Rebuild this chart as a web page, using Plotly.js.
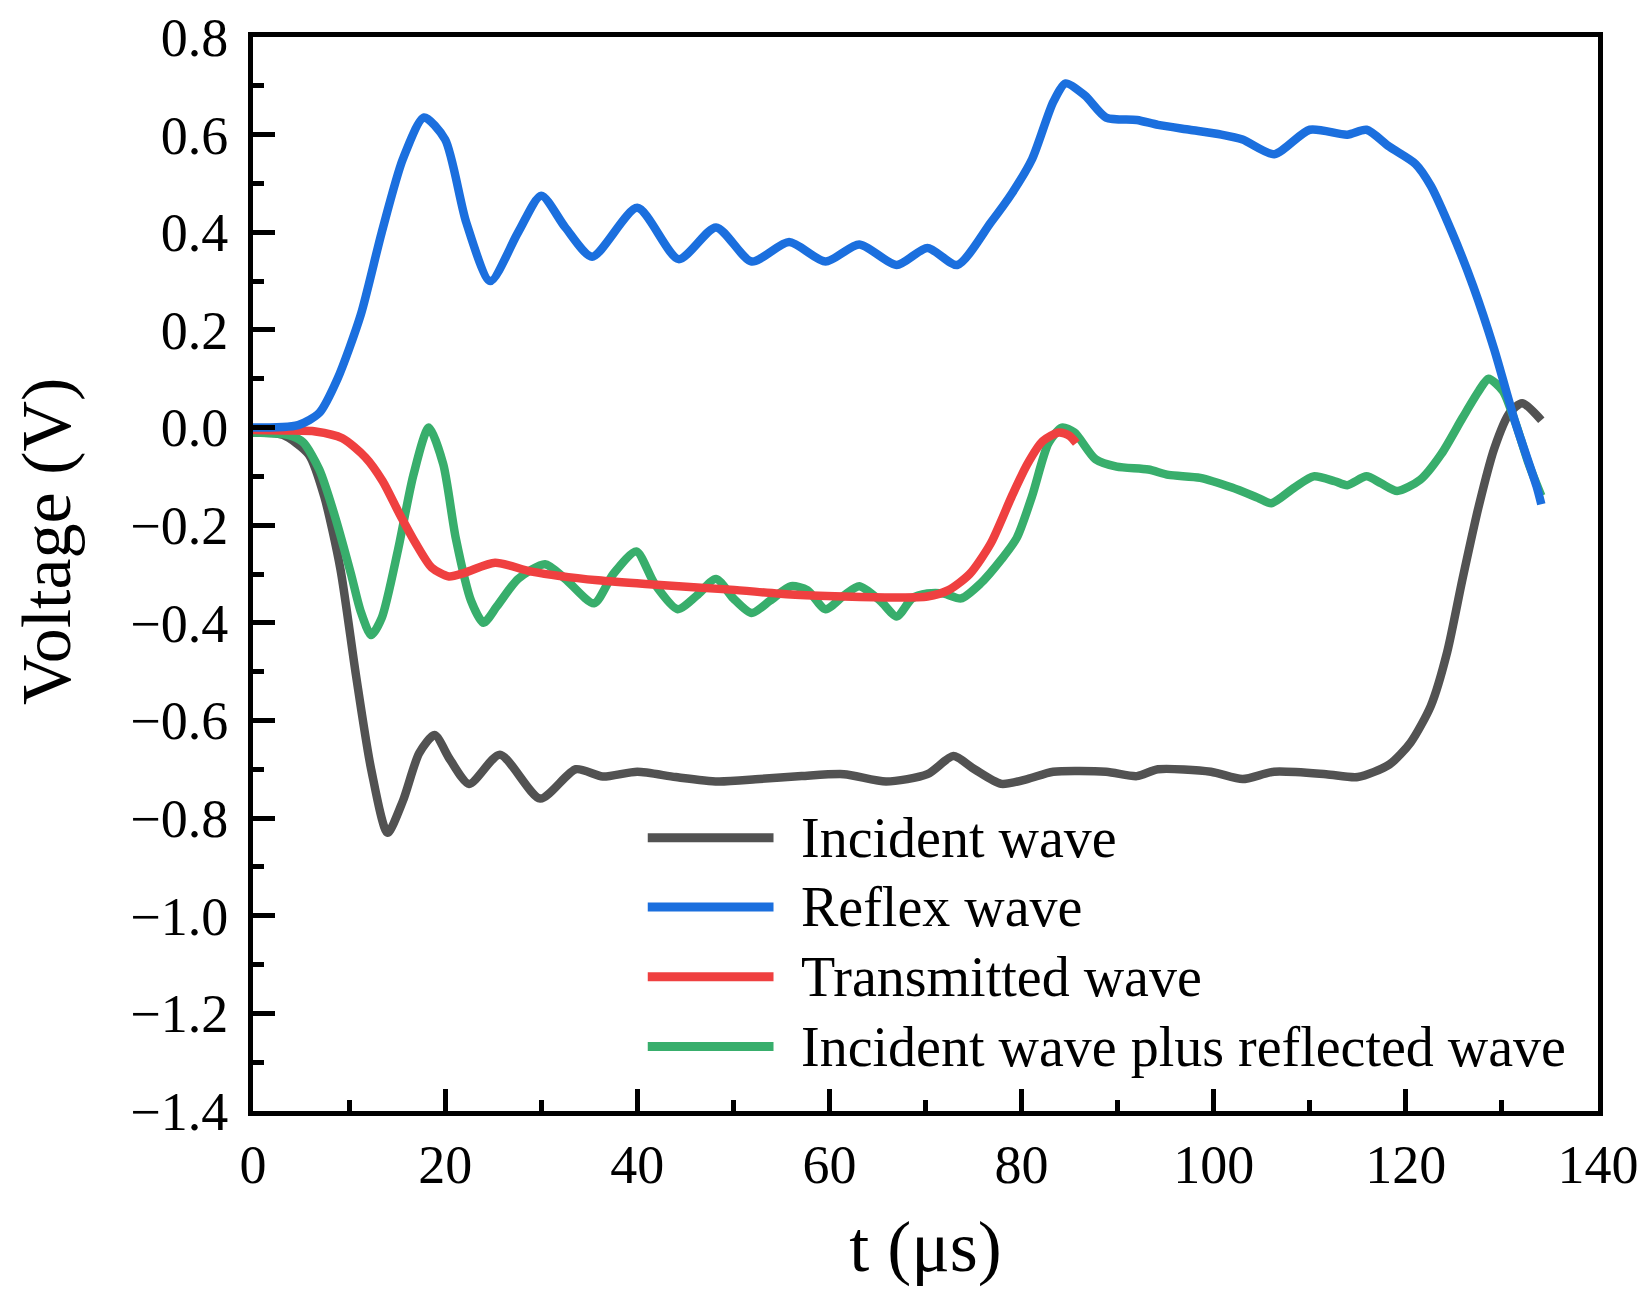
<!DOCTYPE html>
<html>
<head>
<meta charset="utf-8">
<script src="https://cdn.plot.ly/plotly-3.0.1.min.js"></script>
<style>html,body{margin:0;padding:0;background:#fff;}#chart{width:1651px;height:1301px;}</style>
</head>
<body>
<div id="chart"></div>
<script>
// ---- Data ----
const incidentT = [0,3.1,5.8,7.4,9.1,10.7,12.3,14,15.6,17.3,18.9,20.5,22.5,25.7,29.9,33.6,36.4,40,44,48.4,52.7,57.1,61.5,65.9,70.2,72.9,75.1,77.9,80.6,83.3,88.8,92,94.2,99.7,103,106.3,111.7,115,118.3,120.5,122.6,124.3,125.9,127.6,129.2,130.8,132.1,134.1];
const incidentV = [-0.01,-0.015,-0.055,-0.14,-0.29,-0.505,-0.70,-0.83,-0.765,-0.667,-0.63,-0.68,-0.73,-0.67,-0.76,-0.70,-0.715,-0.705,-0.716,-0.725,-0.72,-0.714,-0.71,-0.725,-0.71,-0.673,-0.70,-0.73,-0.72,-0.705,-0.705,-0.714,-0.70,-0.705,-0.72,-0.705,-0.71,-0.716,-0.69,-0.645,-0.57,-0.46,-0.31,-0.16,-0.043,0.03,0.05,0.015];

const reflexT = [0,4.7,6.9,8.8,11.2,13.4,15.6,17.8,20,22.2,24.7,27.6,30,32.5,35.3,40,44.3,48.2,51.9,55.8,59.6,63.1,67,70.2,73.3,76.8,79,81.1,83.3,84.6,86.6,88.8,92,94.2,97.5,100.8,103,106.3,110,113.9,115.9,118.3,121,122.6,124.8,127,129.2,131.4,133.6,134.1];
const reflexV = [0,0.005,0.03,0.10,0.23,0.40,0.55,0.635,0.59,0.42,0.30,0.40,0.475,0.41,0.35,0.45,0.345,0.41,0.34,0.38,0.34,0.375,0.333,0.368,0.333,0.42,0.48,0.55,0.667,0.705,0.68,0.635,0.63,0.62,0.61,0.60,0.59,0.56,0.61,0.60,0.61,0.575,0.54,0.495,0.40,0.29,0.16,0.01,-0.12,-0.157];

const transT = [0,3.6,6.5,9.3,11.7,13.5,15.2,16.9,18.6,20.4,22.1,25.2,29,35.9,42,49.7,56,61.5,66.9,70.2,72.4,74.6,76.8,79,80.6,82.2,83.9,85,85.7];
const transV = [-0.005,-0.006,-0.008,-0.022,-0.061,-0.11,-0.175,-0.236,-0.287,-0.305,-0.297,-0.277,-0.295,-0.313,-0.322,-0.332,-0.342,-0.346,-0.348,-0.346,-0.333,-0.30,-0.237,-0.14,-0.075,-0.028,-0.01,-0.017,-0.032];

const sumT = [0,3.6,5.2,6.9,8.5,10.2,11.2,12.3,13.4,15.1,16.7,18.3,19.8,21.1,22.7,24,25.4,27.6,30.4,32.5,35.5,37.5,39.9,41.8,44.2,46.2,48.2,50,51.9,53.8,56,57.7,59.6,61.5,63.1,65.3,67,68.6,70.2,71.9,73.7,75.7,77.9,79.5,81.1,82.8,84.2,85.5,87.7,89.9,93.2,95.3,98.6,101.9,104.6,106,108.4,110.4,112.6,113.9,115.9,117.4,119.1,121.5,123.7,125.9,127.6,128.6,130.1,131.4,132.8,134.1];
const sumV = [-0.01,-0.015,-0.03,-0.086,-0.18,-0.30,-0.376,-0.425,-0.39,-0.25,-0.097,0.0,-0.075,-0.226,-0.355,-0.40,-0.366,-0.31,-0.28,-0.31,-0.36,-0.30,-0.254,-0.32,-0.372,-0.344,-0.31,-0.35,-0.38,-0.355,-0.325,-0.333,-0.372,-0.344,-0.325,-0.355,-0.387,-0.35,-0.34,-0.34,-0.35,-0.32,-0.27,-0.226,-0.14,-0.032,0.0,-0.01,-0.065,-0.08,-0.086,-0.097,-0.103,-0.123,-0.144,-0.155,-0.123,-0.10,-0.11,-0.118,-0.10,-0.114,-0.13,-0.107,-0.054,0.02,0.075,0.10,0.075,0.01,-0.075,-0.14];

const seriesNames = ["Incident wave","Reflex wave","Transmitted wave","Incident wave plus reflected wave"];
const seriesColors = ["#525252","#1b6fde","#ef4040","#38ae6c"];
const xTickVals = [0,20,40,60,80,100,120,140];
const yTickVals = [0.8,0.6,0.4,0.2,0,-0.2,-0.4,-0.6,-0.8,-1.0,-1.2,-1.4];
const yTickText = ["0.8","0.6","0.4","0.2","0.0","\u22120.2","\u22120.4","\u22120.6","\u22120.8","\u22121.0","\u22121.2","\u22121.4"];

// ---- Build traces ----
const xs = [incidentT, reflexT, transT, sumT];
const ys = [incidentV, reflexV, transV, sumV];
const order = [0,3,2,1]; // draw order
const traces = order.map(i => ({
  x: xs[i], y: ys[i], type: 'scatter', mode: 'lines', name: seriesNames[i],
  line: {color: seriesColors[i], width: 8.5, shape: 'spline', smoothing: 0.7},
  showlegend: false, hoverinfo: 'skip'
}));

const font = 'Liberation Serif, Times New Roman, serif';

// custom legend (long line samples like the reference)
const legY = [0.2545, 0.1900, 0.1250, 0.0600];
const shapes = [], annotations = [];
seriesNames.forEach((n, i) => {
  shapes.push({type:'line', xref:'paper', yref:'paper', x0:0.2935, x1:0.3870, y0:legY[i], y1:legY[i],
    line:{color:seriesColors[i], width:9}});
  annotations.push({xref:'paper', yref:'paper', x:0.406, y:legY[i], xanchor:'left', yanchor:'middle',
    text:n, showarrow:false, font:{family:font, size:56, color:'#000'}});
});
// y-axis title (placed as in the reference, slightly above the axis centre)
annotations.push({xref:'paper', yref:'paper', x:-0.1540, y:0.5307, xanchor:'center', yanchor:'middle',
  textangle:-90, text:'Voltage (V)', showarrow:false, font:{family:font, size:70, color:'#000'}});

const axisCommon = {
  showgrid:false, zeroline:false, showline:true, linecolor:'#000', linewidth:5, mirror:true,
  ticks:'inside', ticklen:22, tickwidth:5, tickcolor:'#000',
  tickfont:{family:font, size:54, color:'#000'}
};

const layout = {
  width:1651, height:1301,
  margin:{l:253, r:53, t:37, b:190},
  paper_bgcolor:'#fff', plot_bgcolor:'#fff',
  font:{family:font, color:'#000'},
  xaxis: Object.assign({}, axisCommon, {
    range:[0,140], tickvals:xTickVals, ticktext:xTickVals.map(String),
    minor:{dtick:10, ticks:'inside', ticklen:11, tickwidth:5, tickcolor:'#000'},
    ticklabelstandoff: 2,
    title:{text:'t (\u03bcs)', font:{family:font, size:72, color:'#000'}, standoff:28}
  }),
  yaxis: Object.assign({}, axisCommon, {
    range:[-1.4,0.8], tickvals:yTickVals, ticktext:yTickText,
    minor:{dtick:0.1, ticks:'inside', ticklen:11, tickwidth:5, tickcolor:'#000'},
    ticklabelstandoff: 9
  }),
  shapes: shapes, annotations: annotations
};

Plotly.newPlot('chart', traces, layout, {staticPlot:true, displayModeBar:false});
</script>
</body>
</html>
